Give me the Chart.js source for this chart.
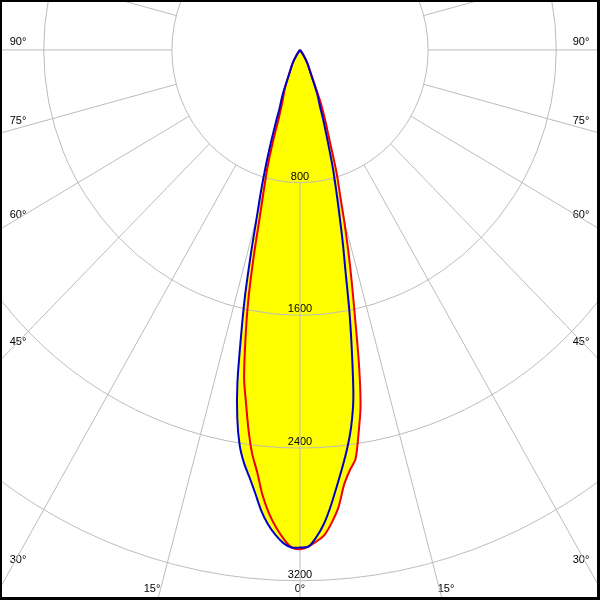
<!DOCTYPE html>
<html>
<head>
<meta charset="utf-8">
<script src="https://cdn.jsdelivr.net/npm/chart.js@4.4.1/dist/chart.umd.min.js"></script>
<style>
  html, body { margin: 0; padding: 0; background: #fff; }
  canvas { display: block; }
</style>
</head>
<body>
<canvas id="polar" width="600" height="600"></canvas>
<script>
// gamma angles (deg from nadir) and intensities (cd) per half plane
const angles = [0, 1, 2, 3, 4, 5, 6, 7, 8, 9, 10, 11, 12, 13, 14, 15, 16, 17, 18, 19, 20, 22, 25, 30, 35, 40];
const c0 = [3000, 2995, 2938, 2860, 2756, 2640, 2530, 2419, 2294, 2129, 1873, 1624, 1369, 1183, 1010, 869, 750, 624, 525, 447, 369, 288, 160, 90, 35, 0];
const c180 = [3000, 3000, 2975, 2928, 2867, 2786, 2684, 2594, 2514, 2410, 2255, 2049, 1776, 1532, 1268, 1040, 880, 730, 590, 470, 372, 288, 160, 90, 35, 0];
const c90 = [3010, 2995, 2964, 2927, 2855, 2765, 2635, 2553, 2490, 2338, 2177, 1929, 1655, 1436, 1244, 1065, 905, 792, 658, 547, 477, 346, 175, 90, 35, 0];
const c270 = [3010, 2999, 2948, 2880, 2797, 2692, 2559, 2452, 2311, 2155, 2010, 1787, 1562, 1296, 1037, 869, 739, 575, 420, 350, 310, 255, 160, 90, 35, 0];

const rings = [800, 1600, 2400, 3200];
const rayStep = 15;

// visible window in candela units (centre of the diagram at 0,0)
const X_HALF = 1873;
const Y_TOP = 301;
const Y_BOTTOM = -3316;

function curve(left, right) {
    const pts = [];
    for (let i = angles.length - 1; i >= 0; i--) {
        const a = angles[i] * Math.PI / 180;
        pts.push({ x: -left[i] * Math.sin(a), y: -left[i] * Math.cos(a) });
    }
    for (let i = 1; i < angles.length; i++) {
        const a = angles[i] * Math.PI / 180;
        pts.push({ x: right[i] * Math.sin(a), y: -right[i] * Math.cos(a) });
    }
    return pts;
}

const angleLabels = [
    { t: '90°', x: 18, y: 42 }, { t: '75°', x: 18, y: 121 }, { t: '60°', x: 18, y: 215 },
    { t: '45°', x: 18, y: 342 }, { t: '30°', x: 18, y: 560 },
    { t: '90°', x: 581, y: 42 }, { t: '75°', x: 581, y: 121 }, { t: '60°', x: 581, y: 215 },
    { t: '45°', x: 581, y: 342 }, { t: '30°', x: 581, y: 560 },
    { t: '15°', x: 152, y: 589 }, { t: '0°', x: 300, y: 589 }, { t: '15°', x: 446, y: 589 }
];

const polarGrid = {
    id: 'polarGrid',
    beforeDatasetsDraw(chart) {
        const { ctx, scales: { x, y } } = chart;
        const cx = x.getPixelForValue(0), cy = y.getPixelForValue(0);
        ctx.save();
        ctx.font = '11px "Liberation Sans", Arial, sans-serif';
        ctx.fillStyle = '#000';
        ctx.textAlign = 'center';
        ctx.textBaseline = 'bottom';
        rings.forEach(r => ctx.fillText(String(r), cx, y.getPixelForValue(-r) - 0.5));
        ctx.textBaseline = 'middle';
        angleLabels.forEach(l => ctx.fillText(l.t, l.x, l.y));

        ctx.strokeStyle = '#bcbcbc';
        ctx.lineWidth = 1;
        rings.forEach(r => {
            const rx = x.getPixelForValue(r) - cx;
            const ry = cy - y.getPixelForValue(r);
            ctx.beginPath();
            ctx.ellipse(cx, cy, rx, ry, 0, 0, Math.PI * 2);
            ctx.stroke();
        });
        for (let g = 0; g < 360; g += rayStep) {
            const a = g * Math.PI / 180;
            const s = Math.sin(a), c = Math.cos(a);
            ctx.beginPath();
            ctx.moveTo(x.getPixelForValue(rings[0] * s), y.getPixelForValue(-rings[0] * c));
            ctx.lineTo(x.getPixelForValue(6000 * s), y.getPixelForValue(-6000 * c));
            ctx.stroke();
        }
        ctx.restore();
    },
    afterDraw(chart) {
        const ctx = chart.ctx;
        ctx.save();
        ctx.fillStyle = '#000';
        ctx.fillRect(0, 0, 600, 2);
        ctx.fillRect(0, 0, 2, 600);
        ctx.fillRect(597, 0, 3, 600);
        ctx.fillRect(0, 597, 600, 3);
        ctx.restore();
    }
};

new Chart(document.getElementById('polar'), {
    type: 'scatter',
    data: {
        datasets: [{
            label: 'C0-C180',
            data: curve(c180, c0),
            showLine: true,
            borderColor: '#0000c8',
            borderWidth: 2,
            backgroundColor: '#ffff00',
            fill: 'shape',
            tension: 0.3,
            pointRadius: 0
        }, {
            label: 'C90-C270',
            data: curve(c270, c90),
            showLine: true,
            borderColor: '#ee0000',
            borderWidth: 2,
            backgroundColor: '#ffff00',
            fill: 'shape',
            tension: 0.3,
            pointRadius: 0
        }]
    },
    options: {
        responsive: false,
        animation: false,
        layout: { padding: 0 },
        plugins: {
            legend: { display: false },
            tooltip: { enabled: false },
            filler: { drawTime: 'beforeDatasetsDraw' }
        },
        scales: {
            x: { type: 'linear', min: -X_HALF, max: X_HALF, display: false },
            y: { type: 'linear', min: Y_BOTTOM, max: Y_TOP, display: false }
        }
    },
    plugins: [polarGrid]
});
</script>
</body>
</html>
